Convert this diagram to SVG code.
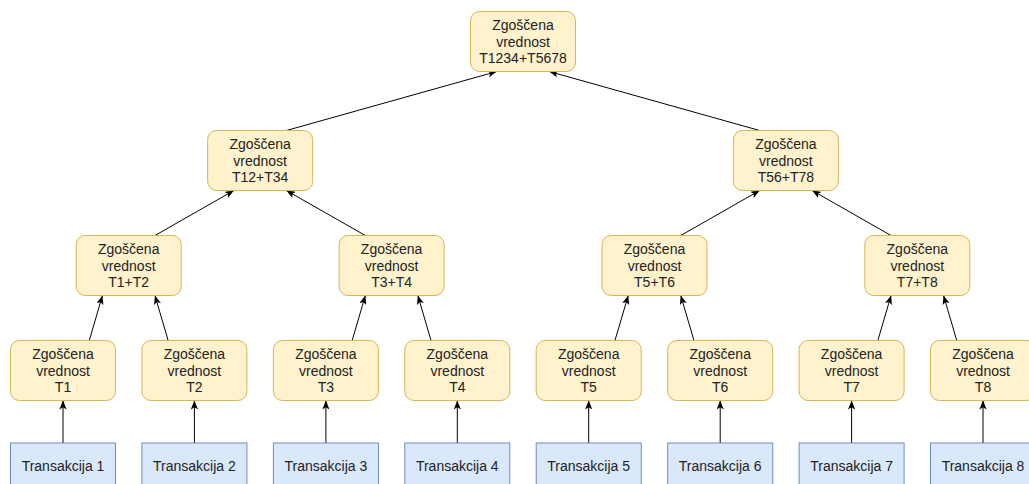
<svg xmlns="http://www.w3.org/2000/svg" width="1029" height="484" viewBox="0 0 1029 484">
<style>
.h{fill:#fff2cc;stroke:#d6b656;stroke-width:1}
.t{fill:#dae8fc;stroke:#6c8ebf;stroke-width:1}
text{font-family:"Liberation Sans",Arial,sans-serif;font-size:14px;fill:#222;text-anchor:middle}
.e{stroke:#000;stroke-width:1;fill:none;marker-end:url(#a)}
</style>
<defs>
<marker id="a" viewBox="0 0 10 8" refX="10" refY="4" markerWidth="9" markerHeight="7.2" markerUnits="userSpaceOnUse" orient="auto">
<path d="M0,0 L10,4 L0,8 L2.5,4 Z" fill="#000"/>
</marker>
</defs>
<rect width="1029" height="484" fill="#fff"/>
<g id="connectors">
<line class="e" x1="63" y1="443" x2="63" y2="400.5"/>
<line class="e" x1="194.4" y1="443" x2="194.4" y2="400.5"/>
<line class="e" x1="325.9" y1="443" x2="325.9" y2="400.5"/>
<line class="e" x1="457.3" y1="443" x2="457.3" y2="400.5"/>
<line class="e" x1="588.7" y1="443" x2="588.7" y2="400.5"/>
<line class="e" x1="720.2" y1="443" x2="720.2" y2="400.5"/>
<line class="e" x1="851.6" y1="443" x2="851.6" y2="400.5"/>
<line class="e" x1="983" y1="443" x2="983" y2="400.5"/>
<line class="e" x1="89.25" y1="340.5" x2="102.45" y2="295.5"/>
<line class="e" x1="168.15" y1="340.5" x2="154.95" y2="295.5"/>
<line class="e" x1="352.15" y1="340.5" x2="365.35" y2="295.5"/>
<line class="e" x1="431.05" y1="340.5" x2="417.85" y2="295.5"/>
<line class="e" x1="614.95" y1="340.5" x2="628.25" y2="295.5"/>
<line class="e" x1="693.95" y1="340.5" x2="680.75" y2="295.5"/>
<line class="e" x1="877.85" y1="340.5" x2="891.05" y2="295.5"/>
<line class="e" x1="956.75" y1="340.5" x2="943.55" y2="295.5"/>
<line class="e" x1="154.95" y1="235.5" x2="233.9" y2="190.5"/>
<line class="e" x1="365.35" y1="235.5" x2="286.4" y2="190.5"/>
<line class="e" x1="680.75" y1="235.5" x2="759.65" y2="190.5"/>
<line class="e" x1="891.05" y1="235.5" x2="812.15" y2="190.5"/>
<line class="e" x1="286.4" y1="130.5" x2="496.75" y2="71.5"/>
<line class="e" x1="759.65" y1="130.5" x2="549.25" y2="71.5"/>
</g>
<g id="root"><rect class="h" x="470.5" y="11.5" width="105" height="60" rx="9"/><text x="523" y="29.7">Zgoščena</text><text x="523" y="46.5">vrednost</text><text x="523" y="63.3">T1234+T5678</text></g>
<g id="h1234"><rect class="h" x="207.65" y="130.5" width="105" height="60" rx="9"/><text x="260.15" y="148.7">Zgoščena</text><text x="260.15" y="165.5">vrednost</text><text x="260.15" y="182.3">T12+T34</text></g>
<g id="h5678"><rect class="h" x="733.4" y="130.5" width="105" height="60" rx="9"/><text x="785.9" y="148.7">Zgoščena</text><text x="785.9" y="165.5">vrednost</text><text x="785.9" y="182.3">T56+T78</text></g>
<g id="h12"><rect class="h" x="76.2" y="235.5" width="105" height="60" rx="9"/><text x="128.7" y="253.7">Zgoščena</text><text x="128.7" y="270.5">vrednost</text><text x="128.7" y="287.3">T1+T2</text></g>
<g id="h34"><rect class="h" x="339.1" y="235.5" width="105" height="60" rx="9"/><text x="391.6" y="253.7">Zgoščena</text><text x="391.6" y="270.5">vrednost</text><text x="391.6" y="287.3">T3+T4</text></g>
<g id="h56"><rect class="h" x="602" y="235.5" width="105" height="60" rx="9"/><text x="654.5" y="253.7">Zgoščena</text><text x="654.5" y="270.5">vrednost</text><text x="654.5" y="287.3">T5+T6</text></g>
<g id="h78"><rect class="h" x="864.8" y="235.5" width="105" height="60" rx="9"/><text x="917.3" y="253.7">Zgoščena</text><text x="917.3" y="270.5">vrednost</text><text x="917.3" y="287.3">T7+T8</text></g>
<g id="h1"><rect class="h" x="10.5" y="340.5" width="105" height="60" rx="9"/><text x="63" y="358.7">Zgoščena</text><text x="63" y="375.5">vrednost</text><text x="63" y="392.3">T1</text></g>
<g id="h2"><rect class="h" x="141.9" y="340.5" width="105" height="60" rx="9"/><text x="194.4" y="358.7">Zgoščena</text><text x="194.4" y="375.5">vrednost</text><text x="194.4" y="392.3">T2</text></g>
<g id="h3"><rect class="h" x="273.4" y="340.5" width="105" height="60" rx="9"/><text x="325.9" y="358.7">Zgoščena</text><text x="325.9" y="375.5">vrednost</text><text x="325.9" y="392.3">T3</text></g>
<g id="h4"><rect class="h" x="404.8" y="340.5" width="105" height="60" rx="9"/><text x="457.3" y="358.7">Zgoščena</text><text x="457.3" y="375.5">vrednost</text><text x="457.3" y="392.3">T4</text></g>
<g id="h5"><rect class="h" x="536.2" y="340.5" width="105" height="60" rx="9"/><text x="588.7" y="358.7">Zgoščena</text><text x="588.7" y="375.5">vrednost</text><text x="588.7" y="392.3">T5</text></g>
<g id="h6"><rect class="h" x="667.7" y="340.5" width="105" height="60" rx="9"/><text x="720.2" y="358.7">Zgoščena</text><text x="720.2" y="375.5">vrednost</text><text x="720.2" y="392.3">T6</text></g>
<g id="h7"><rect class="h" x="799.1" y="340.5" width="105" height="60" rx="9"/><text x="851.6" y="358.7">Zgoščena</text><text x="851.6" y="375.5">vrednost</text><text x="851.6" y="392.3">T7</text></g>
<g id="h8"><rect class="h" x="930.5" y="340.5" width="105" height="60" rx="9"/><text x="983" y="358.7">Zgoščena</text><text x="983" y="375.5">vrednost</text><text x="983" y="392.3">T8</text></g>
<g id="t1"><rect class="t" x="10.5" y="443" width="105" height="60"/><text x="63" y="470.5">Transakcija 1</text></g>
<g id="t2"><rect class="t" x="141.9" y="443" width="105" height="60"/><text x="194.4" y="470.5">Transakcija 2</text></g>
<g id="t3"><rect class="t" x="273.4" y="443" width="105" height="60"/><text x="325.9" y="470.5">Transakcija 3</text></g>
<g id="t4"><rect class="t" x="404.8" y="443" width="105" height="60"/><text x="457.3" y="470.5">Transakcija 4</text></g>
<g id="t5"><rect class="t" x="536.2" y="443" width="105" height="60"/><text x="588.7" y="470.5">Transakcija 5</text></g>
<g id="t6"><rect class="t" x="667.7" y="443" width="105" height="60"/><text x="720.2" y="470.5">Transakcija 6</text></g>
<g id="t7"><rect class="t" x="799.1" y="443" width="105" height="60"/><text x="851.6" y="470.5">Transakcija 7</text></g>
<g id="t8"><rect class="t" x="930.5" y="443" width="105" height="60"/><text x="983" y="470.5">Transakcija 8</text></g>
</svg>
